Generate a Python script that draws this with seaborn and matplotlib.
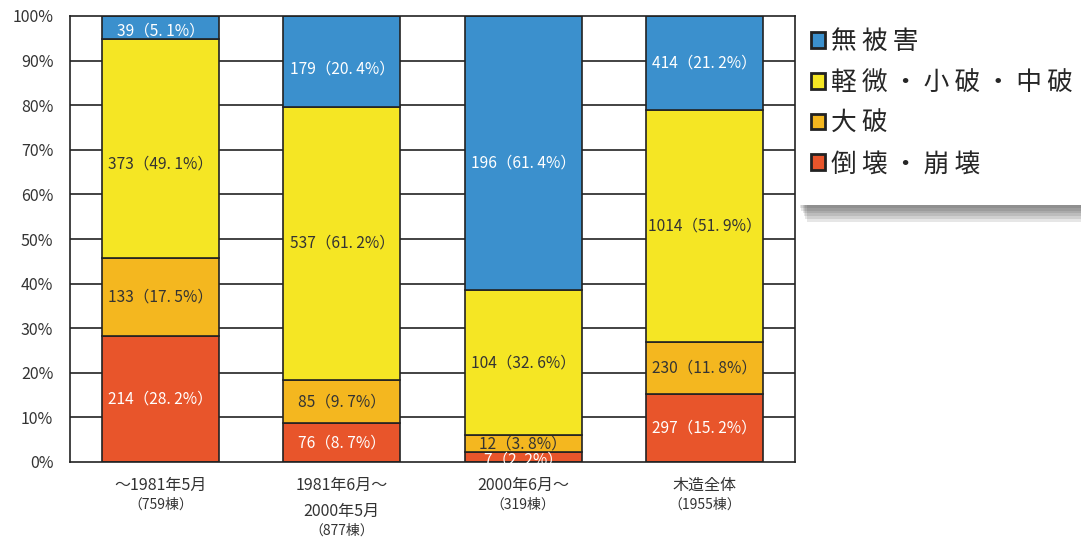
import matplotlib
matplotlib.use("Agg")
import matplotlib.pyplot as plt
import matplotlib.patheffects as pe
from matplotlib.patches import Patch, Rectangle
import numpy as np
import seaborn as sns

# --- data ---
categories = ["～1981年5月", "1981年6月～\n2000年5月", "2000年6月～", "木造全体"]
totals = [759, 877, 319, 1955]

# stacked from the bottom up
layers = ["倒壊・崩壊", "大破", "軽微・小破・中破", "無被害"]
counts = {
    "倒壊・崩壊": [214, 76, 7, 297],
    "大破": [133, 85, 12, 230],
    "軽微・小破・中破": [373, 537, 104, 1014],
    "無被害": [39, 179, 196, 414],
}
percents = {
    "倒壊・崩壊": [28.2, 8.7, 2.2, 15.2],
    "大破": [17.5, 9.7, 3.8, 11.8],
    "軽微・小破・中破": [49.1, 61.2, 32.6, 51.9],
    "無被害": [5.1, 20.4, 61.4, 21.2],
}
legend_keys = ["無被害", "軽微・小破・中破", "大破", "倒壊・崩壊"]

colors = {
    "倒壊・崩壊": "#e8552b",
    "大破": "#f4b71f",
    "軽微・小破・中破": "#f5e624",
    "無被害": "#3b90cd",
}
text_colors = {
    "倒壊・崩壊": "white",
    "大破": "#333333",
    "軽微・小破・中破": "#333333",
    "無被害": "white",
}
# the original placed a few labels a bit off the segment centre (pixels)
label_nudge = {("軽微・小破・中破", 0): -15, ("無被害", 1): -8, ("無被害", 2): -10,
               ("無被害", 0): -3, ("倒壊・崩壊", 2): -3}

sns.set_theme(style="white")
plt.rcParams["font.family"] = ["Noto Sans CJK JP", "DejaVu Sans"]

W, H = 1081, 543
fig = plt.figure(figsize=(W / 100, H / 100), dpi=100)
ax = fig.add_axes([70 / W, 1 - 462 / H, 725 / W, 446 / H])

# --- grid lines behind bars ---
for y in range(10, 100, 10):
    ax.axhline(y, color="#222222", lw=1.2, zorder=0)

bottom = np.zeros(len(categories))
for layer in layers:
    vals = np.array(percents[layer])
    sns.barplot(x=categories, y=vals, bottom=bottom, color=colors[layer],
                edgecolor="#222222", linewidth=1.2, width=0.645,
                saturation=1, ax=ax, zorder=2)
    for i, (n, p) in enumerate(zip(counts[layer], percents[layer])):
        label = f"{n}（" + f"{p:.1f}".replace(".", ". ") + "%）"
        ax.annotate(label, xy=(i, bottom[i] + p / 2),
                    xytext=(0, label_nudge.get((layer, i), 0)), textcoords="offset pixels",
                    ha="center", va="center", fontsize=11.2,
                    color=text_colors[layer], zorder=3)
    bottom = bottom + vals

ax.set_ylim(0, 100)
ax.set_xlim(-0.5, len(categories) - 0.5)
ax.set_yticks(range(0, 101, 10))
ax.set_yticklabels([f"{v}%" for v in range(0, 101, 10)], fontsize=11.5, color="#333333")
ax.tick_params(axis="y", length=0, pad=12)
ax.set_xticks(range(len(categories)))
ax.set_xticklabels([])
ax.tick_params(axis="x", length=0)
for s in ax.spines.values():
    s.set_color("#222222")
    s.set_linewidth(1.2)
    s.set_visible(True)

# --- category labels with building counts ---
for i, (cat, tot) in enumerate(zip(categories, totals)):
    nlines = cat.count("\n") + 1
    ax.annotate(cat, xy=(i, 0), xycoords=("data", "axes fraction"),
                xytext=(0, -15), textcoords="offset pixels",
                ha="center", va="top", fontsize=11.5, color="#333333",
                linespacing=1.7)
    ax.annotate(f"（{tot}棟）", xy=(i, 0), xycoords=("data", "axes fraction"),
                xytext=(0, -43 - 26 * (nlines - 1)), textcoords="offset pixels",
                ha="center", va="center", fontsize=10, color="#333333")

# --- legend panel with soft shadow ---
shadow = [pe.SimplePatchShadow(offset=(1 + k, -2 * k), shadow_rgbFace="#333333", alpha=0.12)
          for k in range(6, 0, -1)]
panel = Rectangle((797 / W, 1 - 205 / H), (W - 797) / W, 191 / H,
                  transform=fig.transFigure, facecolor="white", edgecolor="none",
                  zorder=1, path_effects=shadow + [pe.Normal()])
fig.patches.append(panel)

gap = "\u2009"
legend_labels = [gap.join(k) for k in legend_keys]
handles = [Patch(facecolor=colors[k], edgecolor="#222222", linewidth=2) for k in legend_keys]
fig.legend(handles, legend_labels, loc="upper left",
           bbox_to_anchor=(801 / W, 1 - 19 / H), frameon=False,
           fontsize=18.5, handlelength=0.55, handleheight=0.55,
           handletextpad=0.22, labelspacing=0.57, borderaxespad=0)

fig.savefig("out.png", dpi=100, facecolor="white")
